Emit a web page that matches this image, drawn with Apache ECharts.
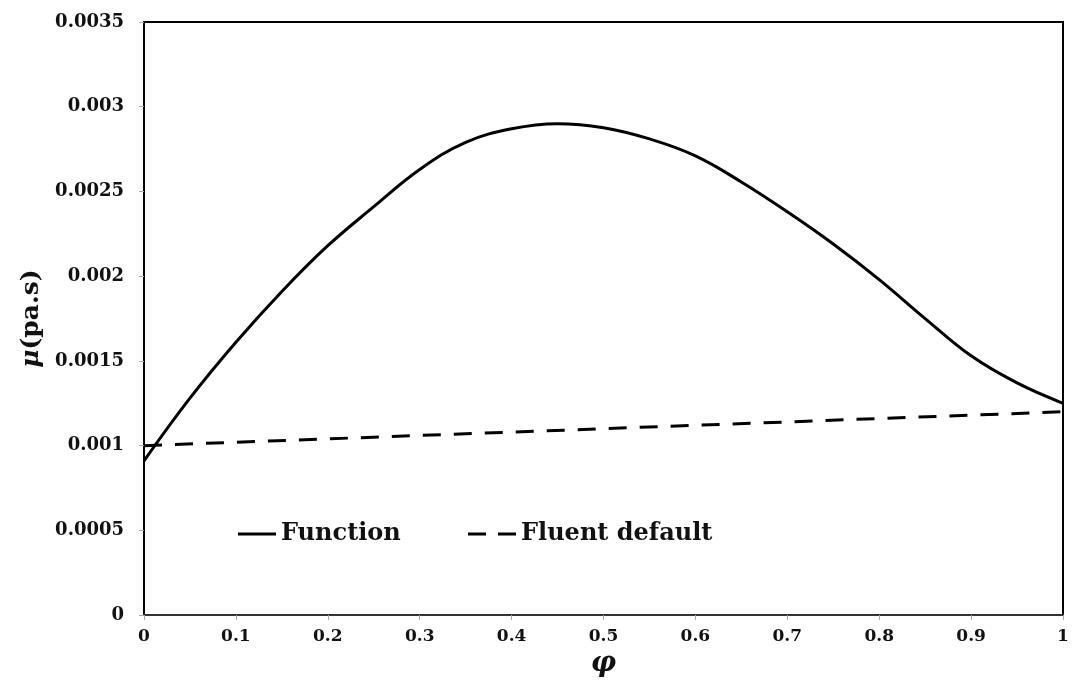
<!DOCTYPE html>
<html>
<head>
<meta charset="utf-8">
<script src="https://cdn.jsdelivr.net/npm/echarts@6/dist/echarts.min.js"></script>
<style>html,body{margin:0;padding:0;background:#fff;}#c{width:1073px;height:683px;}</style>
</head>
<body>
<div id="c"></div>
<script>
// Data
const phiFunction = [0, 0.05, 0.1, 0.15, 0.2, 0.25, 0.3, 0.35, 0.4, 0.45, 0.5, 0.55, 0.6, 0.65, 0.7, 0.75, 0.8, 0.85, 0.9, 0.95, 1.0];
const muFunction  = [0.00091, 0.00128, 0.00161, 0.00191, 0.00218, 0.00241, 0.00263, 0.00279, 0.00287, 0.00290, 0.002876, 0.00281, 0.00271, 0.002556, 0.00238, 0.00219, 0.00198, 0.00175, 0.00153, 0.00137, 0.00125];
const phiFluent = [0, 1];
const muFluent  = [0.001, 0.0012];
const xTickLabels = ['0', '0.1', '0.2', '0.3', '0.4', '0.5', '0.6', '0.7', '0.8', '0.9', '1'];
const yTickLabels = ['0', '0.0005', '0.001', '0.0015', '0.002', '0.0025', '0.003', '0.0035'];

const FONT = 'DejaVu Serif';
const chart = echarts.init(document.getElementById('c'), null, {renderer: 'canvas'});
const pair = (xs, ys) => xs.map((x, i) => [x, ys[i]]);
const legendText = {fontFamily: FONT, fontWeight: 'bold', fontSize: 24, color: '#111'};

chart.setOption({
  animation: false,
  backgroundColor: '#fff',
  grid: {left: 144, right: 10, top: 22, bottom: 65, show: true, borderColor: '#000', borderWidth: 2, containLabel: false},
  legend: [
    {data: [{name: 'Function', icon: 'rect'}], left: 233, top: 517, itemWidth: 38, itemHeight: 3,
     itemStyle: {color: '#000', borderWidth: 0}, textStyle: legendText},
    {data: [{name: 'Fluent default', icon: 'path://M0,0H18V3H0Z M30,0H48V3H30Z'}], left: 463, top: 517, itemWidth: 48, itemHeight: 3,
     itemStyle: {color: '#000', borderWidth: 0}, textStyle: legendText}
  ],
  xAxis: {
    type: 'value', min: 0, max: 1, interval: 0.1,
    name: 'φ', nameLocation: 'middle', nameGap: 33,
    nameTextStyle: {fontFamily: FONT, fontWeight: 'bold', fontStyle: 'italic', fontSize: 28, color: '#111'},
    axisLine: {show: true, lineStyle: {color: '#333', width: 2}},
    axisTick: {show: true, length: 5, lineStyle: {color: '#aaa', width: 1}},
    splitLine: {show: false},
    axisLabel: {margin: 13, fontFamily: FONT, fontWeight: 'bold', fontSize: 17, color: '#111',
      formatter: (v) => xTickLabels[Math.round(v * 10)]}
  },
  yAxis: {
    type: 'value', min: 0, max: 0.0035, interval: 0.0005,
    name: '{i|μ}(pa.s)', nameLocation: 'middle', nameGap: 99,
    nameTextStyle: {fontFamily: FONT, fontWeight: 'bold', fontSize: 25, color: '#111',
      rich: {i: {fontFamily: FONT, fontWeight: 'bold', fontStyle: 'italic', fontSize: 25, color: '#111'}}},
    axisLine: {show: true, lineStyle: {color: '#000', width: 2}},
    axisTick: {show: true, length: 5, lineStyle: {color: '#aaa', width: 1}},
    splitLine: {show: false},
    axisLabel: {margin: 20, fontFamily: FONT, fontWeight: 'bold', fontSize: 18, color: '#111',
      formatter: (v) => yTickLabels[Math.round(v / 0.0005)]}
  },
  series: [
    {name: 'Function', type: 'line', data: pair(phiFunction, muFunction), smooth: 0.4,
     symbol: 'none', lineStyle: {color: '#000', width: 3}, itemStyle: {color: '#000'}},
    {name: 'Fluent default', type: 'line', data: pair(phiFluent, muFluent),
     symbol: 'none', lineStyle: {color: '#000', width: 3, type: [18, 13]}, itemStyle: {color: '#000'}}
  ]
});
</script>
</body>
</html>
